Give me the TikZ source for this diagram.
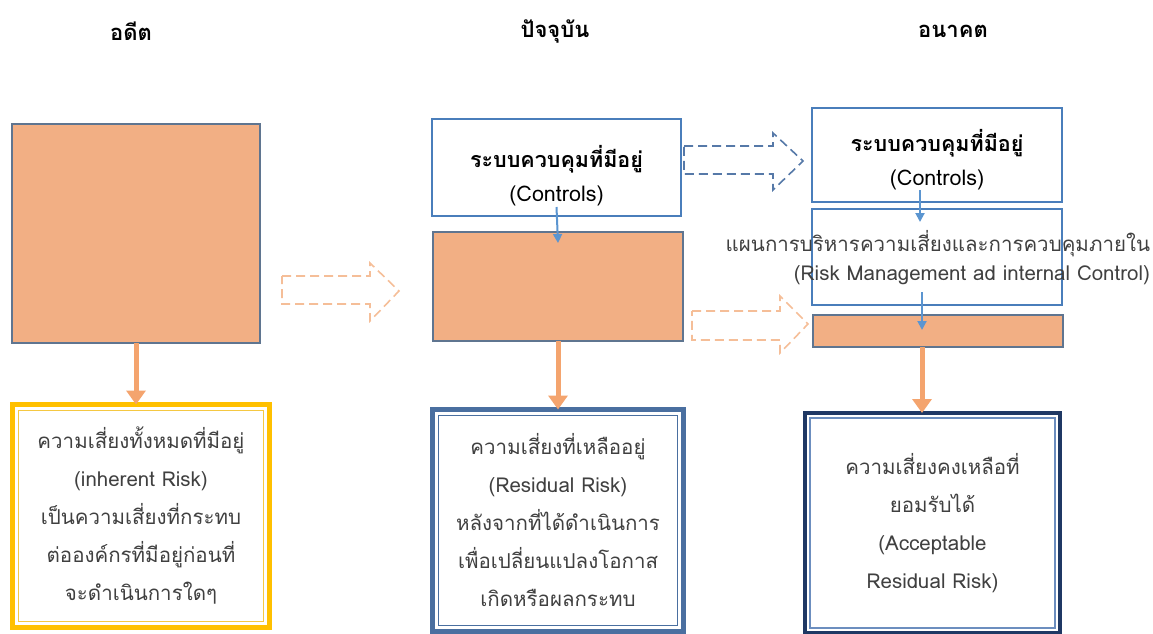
\documentclass[tikz,border=0pt]{standalone}
\usepackage{fontspec}
\newfontfamily\thaifont[Script=Thai]{Loma}
\usetikzlibrary{arrows.meta,calc}
\definecolor{orfill}{HTML}{F2AF84}
\definecolor{obord}{HTML}{5F7590}
\definecolor{orarrow}{HTML}{F4A46E}
\definecolor{ordash}{HTML}{F5BE98}
\definecolor{cblue}{HTML}{4A7EBB}
\definecolor{bldash}{HTML}{5679A8}
\definecolor{arrblue}{HTML}{5B95D0}
\definecolor{yelout}{HTML}{FFC000}
\definecolor{yelin}{HTML}{F5C842}
\definecolor{midout}{HTML}{4A6FA0}
\definecolor{navy}{HTML}{1F3864}
\definecolor{navyin}{HTML}{6C8EBF}
\definecolor{txtc}{HTML}{404040}
\begin{document}
\begin{tikzpicture}[x=1pt,y=-1pt,
  every node/.style={outer sep=0pt, inner sep=0pt},
  orbox/.style={draw=obord, line width=1.5pt, fill=orfill, anchor=north west},
  ctrlbox/.style={draw=cblue, line width=1.5pt, fill=white, anchor=north west},
  outbox/.style={line width=5pt, fill=white, anchor=north west},
  downor/.style={draw=orarrow, line width=5pt, -{Triangle[width=19pt,length=14pt]}},
  downbl/.style={draw=arrblue, line width=2pt, -{Triangle[width=9pt,length=9pt]}},
  dasharr/.style={line width=1.6pt, dash pattern=on 9pt off 5pt},
  boxtxt/.style={align=center, text=txtc, font=\thaifont\fontsize{20.5}{38}\selectfont},
  headtxt/.style={text=black, font=\thaifont\bfseries\fontsize{22}{24}\selectfont},
  ctrltxt/.style={align=center, text=black, font=\thaifont\fontsize{21.5}{34}\selectfont}
]
\useasboundingbox (0,0) rectangle (1153,634);

% headers
\node[headtxt] (h1) at (131,31) {อดีต};
\node[headtxt] (h2) at (555,31) {ปัจจุบัน};
\node[headtxt] (h3) at (953,31) {อนาคต};

% past
\node[orbox, minimum width=248pt, minimum height=219pt] (past) at (12,124) {};
\node[outbox, draw=yelout, minimum width=257pt, minimum height=223pt] (pastout) at (12.5,404.5) {};
\draw[yelin, line width=1.3pt] ($(pastout.north west)+(6,6)$) rectangle ($(pastout.south east)+(-6,-6)$);
\node[boxtxt] (pasttxt) at (pastout.center) {ความเสี่ยงทั้งหมดที่มีอยู่\\(inherent Risk)\\เป็นความเสี่ยงที่กระทบ\\ต่อองค์กรที่มีอยู่ก่อนที่\\จะดำเนินการใดๆ};
\draw[downor] (past.south) -- (past.south |- pastout.north);

% present
\node[ctrlbox, minimum width=249pt, minimum height=97pt] (ctrl1) at (432,119) {};
\node[ctrltxt] (ctrl1txt) at ($(ctrl1.center)+(0,8)$) {\textbf{ระบบควบคุมที่มีอยู่}\\(Controls)};
\node[orbox, minimum width=250pt, minimum height=109pt] (pres) at (433,232) {};
\node[outbox, draw=midout, minimum width=251pt, minimum height=222pt] (presout) at (432.5,409.5) {};
\draw[midout, line width=1.3pt] ($(presout.north west)+(6,6)$) rectangle ($(presout.south east)+(-6,-6)$);
\node[boxtxt] (prestxt) at (presout.center) {ความเสี่ยงที่เหลืออยู่\\(Residual Risk)\\หลังจากที่ได้ดำเนินการ\\เพื่อเปลี่ยนแปลงโอกาส\\เกิดหรือผลกระทบ};
\draw[downor] (pres.south) -- (presout.north);
\draw[downbl] ([yshift=9pt]ctrl1.south) -- ([yshift=-11pt]pres.north);

% future
\node[ctrlbox, minimum width=250pt, minimum height=94pt] (ctrl2) at (812,108) {};
\node[ctrltxt] (ctrl2txt) at ($(ctrl2.center)+(0,5)$) {\textbf{ระบบควบคุมที่มีอยู่}\\(Controls)};
\node[ctrlbox, minimum width=250pt, minimum height=96pt] (plan) at (812,209) {};
\node[orbox, minimum width=250pt, minimum height=32pt] (fut) at (813,315) {};
\node[outbox, draw=navy, line width=4pt, minimum width=255pt, minimum height=220pt] (futout) at (805,413) {};
\draw[navyin, line width=1.3pt] ($(futout.north west)+(5,5)$) rectangle ($(futout.south east)+(-5,-5)$);
\node[boxtxt] (futtxt) at (futout.center) {ความเสี่ยงคงเหลือที่\\ยอมรับได้\\(Acceptable\\Residual Risk)};
\node[boxtxt, align=right, anchor=east] (plantxt) at (1150,258) {แผนการบริหารความเสี่ยงและการควบคุมภายใน\\[-9pt](Risk Management ad internal Control)};
\coordinate (fa) at ($(fut.south west)+(109,0)$);
\draw[downor] (fa) -- (fa |- futout.north);
\coordinate (b1) at ($(ctrl2.south west)+(108,-12)$);
\draw[downbl] (b1) -- ($(b1 |- plan.north)+(0,13)$);
\coordinate (b2) at ($(plan.south west)+(110,-13)$);
\draw[downbl] (b2) -- ($(b2 |- fut.north)+(0,15)$);

% dashed block arrows
\draw[dasharr, ordash] (282,276) -- (370,276) -- (370,263) -- (399,291) -- (370,321) -- (370,304) -- (282,304) -- cycle;
\draw[dasharr, bldash] (684,146) -- (773,146) -- (773,133) -- (803,161) -- (773,190) -- (773,174) -- (684,174) -- cycle;
\draw[dasharr, ordash] (692,311) -- (780,311) -- (780,296) -- (808,324) -- (780,353) -- (780,340) -- (692,340) -- cycle;
\end{tikzpicture}
\end{document}
